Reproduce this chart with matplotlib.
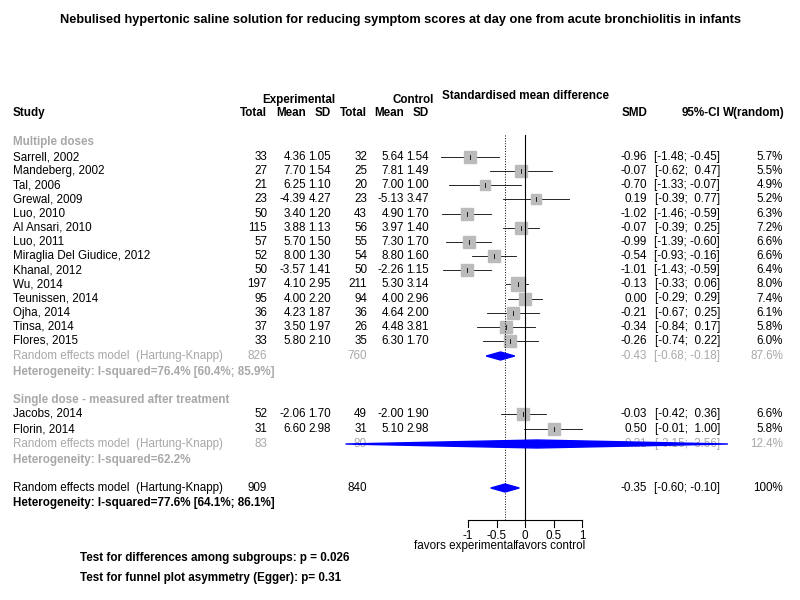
import matplotlib
matplotlib.use('Agg')
import matplotlib.pyplot as plt
import numpy as np

plt.rcParams['font.family'] = ['Liberation Sans', 'DejaVu Sans']

#%% Data
studies1 = ['Sarrell, 2002', 'Mandeberg, 2002', 'Tal, 2006', 'Grewal, 2009', 'Luo, 2010',
            'Al Ansari, 2010', 'Luo, 2011', 'Miraglia Del Giudice, 2012', 'Khanal, 2012',
            'Wu, 2014', 'Teunissen, 2014', 'Ojha, 2014', 'Tinsa, 2014', 'Flores, 2015']
n_e1 = [33, 27, 21, 23, 50, 115, 57, 52, 50, 197, 95, 36, 37, 33]
m_e1 = [4.36, 7.70, 6.25, -4.39, 3.40, 3.88, 5.70, 8.00, -3.57, 4.10, 4.00, 4.23, 3.50, 5.80]
s_e1 = [1.05, 1.54, 1.10, 4.27, 1.20, 1.13, 1.50, 1.30, 1.41, 2.95, 2.20, 1.87, 1.97, 2.10]
n_c1 = [32, 25, 20, 23, 43, 56, 55, 54, 50, 211, 94, 36, 26, 35]
m_c1 = [5.64, 7.81, 7.00, -5.13, 4.90, 3.97, 7.30, 8.80, -2.26, 5.30, 4.00, 4.64, 4.48, 6.30]
s_c1 = [1.54, 1.49, 1.00, 3.47, 1.70, 1.40, 1.70, 1.60, 1.15, 3.14, 2.96, 2.00, 3.81, 1.70]
smd1 = [-0.96, -0.07, -0.70, 0.19, -1.02, -0.07, -0.99, -0.54, -1.01, -0.13, 0.00, -0.21, -0.34, -0.26]
lo1 = [-1.48, -0.62, -1.33, -0.39, -1.46, -0.39, -1.39, -0.93, -1.43, -0.33, -0.29, -0.67, -0.84, -0.74]
hi1 = [-0.45, 0.47, -0.07, 0.77, -0.59, 0.25, -0.60, -0.16, -0.59, 0.06, 0.29, 0.25, 0.17, 0.22]
w1 = [5.7, 5.5, 4.9, 5.2, 6.3, 7.2, 6.6, 6.6, 6.4, 8.0, 7.4, 6.1, 5.8, 6.0]

studies2 = ['Jacobs, 2014', 'Florin, 2014']
n_e2 = [52, 31]
m_e2 = [-2.06, 6.60]
s_e2 = [1.70, 2.98]
n_c2 = [49, 31]
m_c2 = [-2.00, 5.10]
s_c2 = [1.90, 2.98]
smd2 = [-0.03, 0.50]
lo2 = [-0.42, -0.01]
hi2 = [0.36, 1.00]
w2 = [6.6, 5.8]

re1 = (-0.43, -0.68, -0.18, 87.6, 826, 760)
re2 = (0.21, -3.15, 3.56, 12.4, 83, 80)
re_all = (-0.35, -0.60, -0.10, 100, 909, 840)
ticks = [-1, -0.5, 0, 0.5, 1]

#%% Layout (pixel-like coordinates)
fig = plt.figure(figsize=(8, 6), dpi=100)
ax = fig.add_axes([0, 0, 1, 1])
ax.set_xlim(0, 800)
ax.set_ylim(600, 0)
ax.axis('off')
fx = fig.add_axes([0, 0, 1, 1], facecolor='none')
fx.set_xlim(-525 / 57, 275 / 57)
fx.set_ylim(600, 0)
fx.axis('off')

fs = 8.4
grey = '#a8a8a8'
cols = [267, 306, 331, 367, 404, 429]

def t(x, y, s, ha='right', **kw):
    kw.setdefault('fontsize', fs)
    ax.text(x, y, s, ha=ha, va='center', **kw)

def ci(lo, hi):
    return '[%5.2f; %5.2f]' % (lo, hi)

ax.text(400, 20, 'Nebulised hypertonic saline solution for reducing symptom scores at day one from acute bronchiolitis in infants',
        ha='center', va='center', fontsize=9.2, fontweight='bold')
t(299, 100, 'Experimental', ha='center', fontweight='bold')
t(413, 100, 'Control', ha='center', fontweight='bold')
t(525, 96, 'Standardised mean difference', ha='center', fontweight='bold')
t(13, 113, 'Study', ha='left', fontweight='bold')
for x, h in zip(cols, ['Total', 'Mean', 'SD', 'Total', 'Mean', 'SD']):
    t(x, 113, h, fontweight='bold')
t(647, 113, 'SMD', fontweight='bold')
t(720, 113, '95%-CI', fontweight='bold')
t(785, 113, 'W(random)', fontweight='bold')

def study_rows(y0, names, ne, me, se, nc, mc, sc, smd, lo, hi, w, step):
    for i in range(len(names)):
        y = y0 + i * step
        t(13, y, names[i], ha='left')
        vals = [str(ne[i]), '%.2f' % me[i], '%.2f' % se[i], str(nc[i]), '%.2f' % mc[i], '%.2f' % sc[i]]
        for x, v in zip(cols, vals):
            t(x, y, v)
        t(647, y, '%.2f' % smd[i])
        t(720, y, ci(lo[i], hi[i]))
        t(783, y, '%.1f%%' % w[i])
        fx.plot([lo[i], hi[i]], [y, y], color='black', lw=0.6)
        fx.plot(smd[i], y, 's', color='#bbbbbb', ms=3.4 * np.sqrt(w[i]), mec='#bbbbbb')
        fx.plot([smd[i], smd[i]], [y - 2, y + 2], color='black', lw=0.6)

def diamond(y, est, lo, hi):
    fx.fill([lo, est, hi, est], [y, y - 4, y, y + 4], color='blue', clip_on=False, zorder=3)

t(13, 142, 'Multiple doses', ha='left', color=grey, fontweight='bold')
study_rows(157, studies1, n_e1, m_e1, s_e1, n_c1, m_c1, s_c1, smd1, lo1, hi1, w1, 14.15)
t(13, 356, 'Random effects model  (Hartung-Knapp)', ha='left', color=grey)
t(cols[0], 356, str(re1[4]), color=grey)
t(cols[3], 356, str(re1[5]), color=grey)
t(647, 356, '%.2f' % re1[0], color=grey)
t(720, 356, ci(re1[1], re1[2]), color=grey)
t(783, 356, '%.1f%%' % re1[3], color=grey)
diamond(356, *re1[:3])
t(13, 372, 'Heterogeneity: I-squared=76.4% [60.4%; 85.9%]', ha='left', color=grey, fontweight='bold')

t(13, 400, 'Single dose - measured after treatment', ha='left', color=grey, fontweight='bold')
study_rows(414, studies2, n_e2, m_e2, s_e2, n_c2, m_c2, s_c2, smd2, lo2, hi2, w2, 15)
t(13, 444, 'Random effects model  (Hartung-Knapp)', ha='left', color=grey)
t(cols[0], 444, str(re2[4]), color=grey)
t(cols[3], 444, str(re2[5]), color=grey)
t(647, 444, '%.2f' % re2[0], color=grey)
t(720, 444, ci(re2[1], re2[2]), color=grey)
t(783, 444, '%.1f%%' % re2[3], color=grey)
diamond(444, *re2[:3])
t(13, 460, 'Heterogeneity: I-squared=62.2%', ha='left', color=grey, fontweight='bold')

t(13, 488, 'Random effects model  (Hartung-Knapp)', ha='left')
t(cols[0], 488, str(re_all[4]))
t(cols[3], 488, str(re_all[5]))
t(647, 488, '%.2f' % re_all[0])
t(720, 488, ci(re_all[1], re_all[2]))
t(783, 488, '%d%%' % re_all[3])
diamond(488, *re_all[:3])
t(13, 503, 'Heterogeneity: I-squared=77.6% [64.1%; 86.1%]', ha='left', fontweight='bold')

# reference lines and axis
fx.plot([0, 0], [135, 520], color='black', lw=0.8)
fx.plot([re_all[0]] * 2, [135, 520], color='black', lw=0.7, ls=':')
fx.plot([ticks[0], ticks[-1]], [520, 520], color='black', lw=0.8)
for tk in ticks:
    fx.plot([tk, tk], [520, 527], color='black', lw=0.8)
    fx.text(tk, 530, '%g' % tk, ha='center', va='top', fontsize=fs)
fx.text(-1.05, 546, 'favors experimental', ha='center', va='center', fontsize=fs)
fx.text(0.44, 546, 'favors control', ha='center', va='center', fontsize=fs)

t(80, 558, 'Test for differences among subgroups: p = 0.026', ha='left', fontweight='bold')
t(80, 578, 'Test for funnel plot asymmetry (Egger): p= 0.31', ha='left', fontweight='bold')

fig.savefig('out.png', dpi=100)
